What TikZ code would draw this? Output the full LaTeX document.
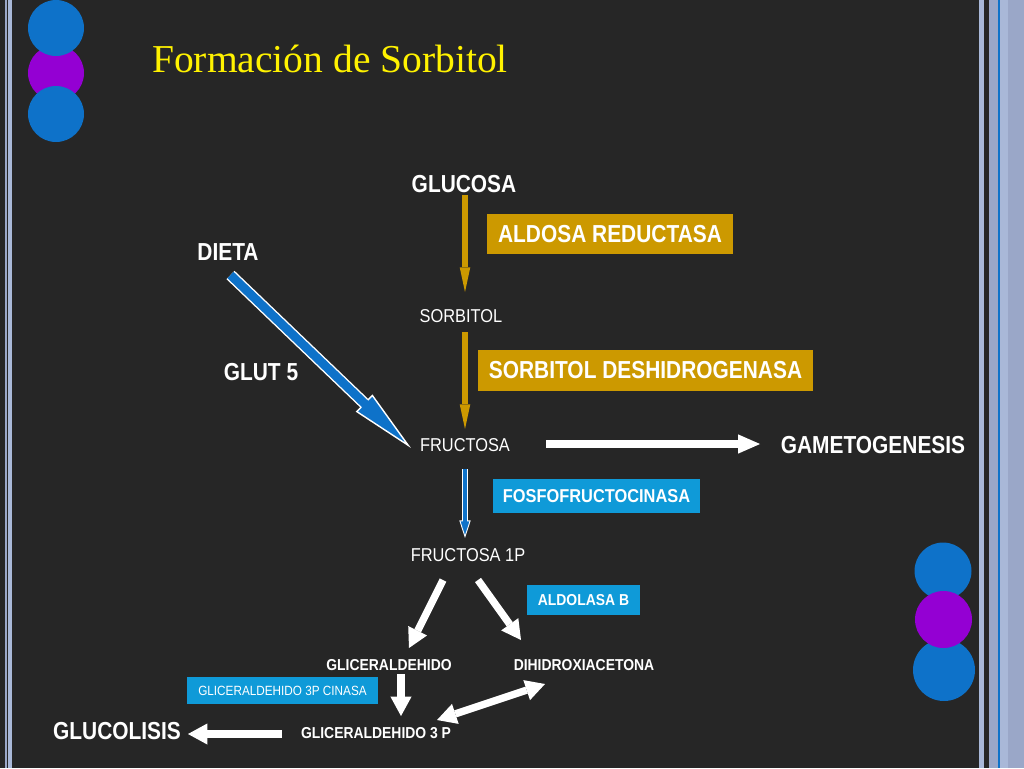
\documentclass[tikz,border=0pt]{standalone}
\usepackage{fontspec}
\usetikzlibrary{arrows.meta}
\setmainfont{Liberation Serif}
\newfontfamily\labelfont[FakeStretch=0.88]{Liberation Sans}
\newfontfamily\bigfont[FakeStretch=0.85]{Liberation Sans}
\definecolor{slidebg}{HTML}{262626}
\definecolor{ballblue}{HTML}{0E72C9}
\definecolor{ballpurple}{HTML}{9400D3}
\definecolor{goldbox}{HTML}{CC9900}
\definecolor{cyanbox}{HTML}{0F9AD8}
\definecolor{framelight}{HTML}{A9B8D8}
\definecolor{framemid}{HTML}{9AA7C8}
\tikzset{
    big/.style = {inner sep=0pt, text=white, font=\bigfont\bfseries\fontsize{14}{16}\selectfont},
    small/.style = {inner sep=0pt, text=white, font=\labelfont\fontsize{10.6}{12}\selectfont},
    tiny/.style = {inner sep=0pt, text=white, font=\labelfont\bfseries\fontsize{9}{11}\selectfont},
    goldlabel/.style = {big, fill=goldbox},
    cyanlabel/.style = {tiny, fill=cyanbox},
    ball/.style = {circle, inner sep=0pt},
    goldarrow/.style = {goldbox, line width=3.1pt, -{Triangle[length=14pt,width=6pt,line width=0pt]}},
    whitearrow/.style = {white, line width=4.2pt, -{Triangle[length=11pt,width=12pt,line width=0pt]}}
    }
\begin{document}
\begin{tikzpicture}[x=0.02cm, y=-0.02cm]
    \useasboundingbox (0,0) rectangle (1024,768);
    \fill[slidebg] (0,0) rectangle (1024,768);

    \fill[framemid] (5,0) rectangle (7,768);
    \fill[framelight] (8,0) rectangle (12,768);
    \fill[framelight] (979,0) rectangle (984,768);
    \fill[black!85] (984,0) rectangle (989,768);
    \fill[framemid] (989,0) rectangle (1024,768);
    \fill[ballblue] (998,0) rectangle (999.5,768);
    \fill[framelight] (999.5,0) rectangle (1008,768);

    \node[ball, fill=ballpurple, minimum size=1.12cm] (ball2) at (56,73) {};
    \node[ball, fill=ballblue, minimum size=1.12cm] (ball1) at (56,28) {};
    \node[ball, fill=ballblue, minimum size=1.12cm] (ball3) at (56,114) {};
    \node[ball, fill=ballblue, minimum size=1.14cm] (ball4) at (943,571) {};
    \node[ball, fill=ballblue, minimum size=1.24cm] (ball6) at (944,670) {};
    \node[ball, fill=ballpurple, minimum size=1.14cm] (ball5) at (943.5,619.5) {};

    \node[inner sep=0pt, text=yellow, font=\fontsize{22.5}{26}\selectfont] (title) at (330,59) {Formación de Sorbitol};

    \node[goldlabel, minimum width=4.92cm, minimum height=0.8cm] (aldosa) at (610,234) {ALDOSA REDUCTASA};
    \node[goldlabel, minimum width=6.7cm, minimum height=0.82cm] (deshidro) at (645.5,370.5) {SORBITOL DESHIDROGENASA};
    \node[cyanlabel, font=\labelfont\bfseries\fontsize{10.6}{12}\selectfont, minimum width=4.14cm, minimum height=0.68cm] (fosfo) at (596.5,496) {FOSFOFRUCTOCINASA};
    \node[cyanlabel, minimum width=2.26cm, minimum height=0.6cm] (aldolasa) at (583.5,600) {ALDOLASA B};
    \node[cyanlabel, font=\labelfont\fontsize{7.6}{9}\selectfont, minimum width=3.82cm, minimum height=0.54cm] (cinasa) at (282.5,690.5) {GLICERALDEHIDO 3P CINASA};

    \node[big] (glucosa) at (464,184) {GLUCOSA};
    \node[big] (dieta) at (228,252) {DIETA};
    \node[big] (glut) at (261,372) {GLUT 5};
    \node[small] (sorbitol) at (461,316) {SORBITOL};
    \node[small] (fructosa) at (465,445) {FRUCTOSA};
    \node[big] (gameto) at (873,445) {GAMETOGENESIS};
    \node[small] (fructosap) at (468,555) {FRUCTOSA 1P};
    \node[tiny] (glicer) at (389,665) {GLICERALDEHIDO};
    \node[tiny] (dihidroxi) at (584,665) {DIHIDROXIACETONA};
    \node[tiny] (glicerp) at (376,733) {GLICERALDEHIDO 3 P};
    \node[big] (glucolisis) at (117,731) {GLUCOLISIS};

    \draw[goldarrow] ([shift={(1,11)}]glucosa.center) -- ([shift={(4,-24)}]sorbitol.center);
    \draw[goldarrow] ([shift={(4,16)}]sorbitol.center) -- ([shift={(0,-16)}]fructosa.center);

    \draw[white, line width=6.6pt, -{Triangle[length=37pt,width=13.5pt,line width=0.8pt,fill=ballblue]}]
        ([shift={(2.5,23)}]dieta.center) -- ([shift={(-54,3)}]fructosa.center);
    \draw[ballblue, line width=5pt, shorten >=34pt]
        ([shift={(2.5,23)}]dieta.center) -- ([shift={(-54,3)}]fructosa.center);

    \draw[white, line width=3.4pt, -{Triangle[length=10pt,width=6.4pt,line width=0.5pt,fill=ballblue]}]
        ([shift={(0,24)}]fructosa.center) -- ([shift={(-3,-17)}]fructosap.center);
    \draw[ballblue, line width=2.1pt, shorten >=9pt]
        ([shift={(0,24)}]fructosa.center) -- ([shift={(-3,-17)}]fructosap.center);

    \draw[whitearrow, -{Triangle[length=12.5pt,width=11pt,line width=0pt]}] ([shift={(81,-1)}]fructosa.center) -- ([shift={(-113,-1)}]gameto.center);
    \draw[whitearrow] ([shift={(-25,25)}]fructosap.center) -- ([shift={(20,-17)}]glicer.center);
    \draw[whitearrow] ([shift={(10,25)}]fructosap.center) -- ([shift={(-63,-25)}]dihidroxi.center);
    \draw[whitearrow] ([shift={(12,9)}]glicer.center) -- ([shift={(25,-17)}]glicerp.center);
    \draw[whitearrow, {Triangle[length=11pt,width=12pt,line width=0pt]}-{Triangle[length=11pt,width=12pt,line width=0pt]}] ([shift={(-39,19)}]dihidroxi.center) -- ([shift={(61,-13)}]glicerp.center);
    \draw[whitearrow] ([shift={(-94,1)}]glicerp.center) -- ([shift={(71,3)}]glucolisis.center);
\end{tikzpicture}
\end{document}
